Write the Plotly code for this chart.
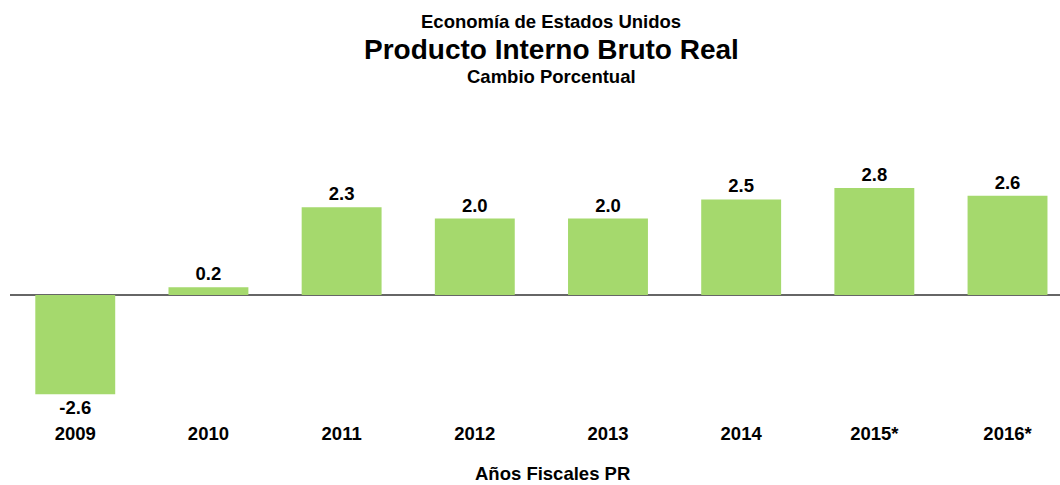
import plotly.graph_objects as go

years = ["2009", "2010", "2011", "2012", "2013", "2014", "2015*", "2016*"]
values = [-2.6, 0.2, 2.3, 2.0, 2.0, 2.5, 2.8, 2.6]
labels = [f"<b>{v:.1f}</b>" for v in values]

FONT = "Liberation Sans, Arial, sans-serif"
BAR = "#A5D96D"
SMALL = 18.5

# plot area in page pixels
L, R, T, B = 10, 1060, 130, 420
W, H = 1060, 485

fig = go.Figure(
    go.Bar(
        x=years,
        y=values,
        text=labels,
        textposition="outside",
        textfont=dict(family=FONT, size=SMALL, color="#000000"),
        marker=dict(color=BAR, line=dict(width=0)),
        width=0.6,
        cliponaxis=False,
        hoverinfo="x+y",
    )
)


def ann(text, page_x, page_y, size):
    return dict(
        text=f"<b>{text}</b>", xref="paper", yref="paper",
        x=(page_x - L) / (R - L), y=(B - page_y) / (B - T),
        xanchor="center", yanchor="middle", showarrow=False,
        font=dict(family=FONT, size=size, color="#000000"),
    )


fig.update_layout(
    width=W,
    height=H,
    margin=dict(l=L, r=W - R, t=T, b=H - B, pad=0),
    paper_bgcolor="white",
    plot_bgcolor="white",
    showlegend=False,
    font=dict(family=FONT, color="#000000"),
    xaxis=dict(
        type="category",
        range=[-0.49, 7.394],
        showgrid=False,
        showline=False,
        ticks="",
        tickfont=dict(family=FONT, size=SMALL, color="#000000"),
        tickprefix="<b>",
        ticksuffix="</b>",
        fixedrange=True,
    ),
    yaxis=dict(
        range=[-3.272, 4.319],
        showgrid=False,
        showticklabels=False,
        zeroline=True,
        zerolinecolor="#666666",
        zerolinewidth=2,
        showline=False,
        ticks="",
        fixedrange=True,
    ),
    annotations=[
        ann("Economía de Estados Unidos", 551, 21, SMALL),
        ann("Producto Interno Bruto Real", 551, 50, 28),
        ann("Cambio Porcentual", 551, 76, SMALL),
        ann("Años Fiscales PR", 552, 473, SMALL),
    ],
)

fig.write_html(
    "out.html",
    config={"displayModeBar": False},
    post_script="document.body.style.margin='0';document.body.style.overflow='hidden';",
)
